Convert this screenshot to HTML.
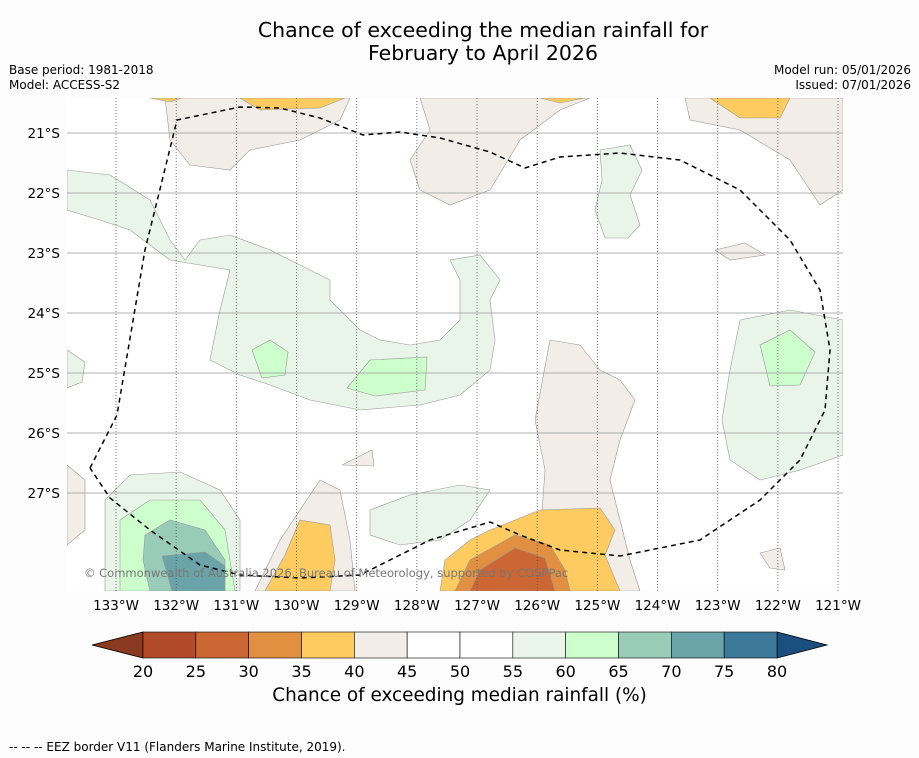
<!DOCTYPE html>
<html><head><meta charset="utf-8"><style>
body{margin:0;background:#fdfdfd;font-family:"DejaVu Sans","Liberation Sans",sans-serif;}
#wrap{position:relative;width:919px;height:758px;overflow:hidden;background:#fdfdfd}
.t{position:absolute;color:#000}
</style></head><body>
<div id="wrap">
<div class="t" style="left:0;width:966px;top:19px;text-align:center;font-size:20.5px;line-height:23px">Chance of exceeding the median rainfall for<br>February to April 2026</div>
<div class="t" style="left:9px;top:63px;font-size:12px;line-height:15px">Base period: 1981-2018<br>Model: ACCESS-S2</div>
<div class="t" style="right:8px;top:63px;font-size:12px;line-height:15px;text-align:right">Model run: 05/01/2026<br>Issued: 07/01/2026</div>
<div class="t" style="left:9px;top:740px;font-size:12px">--  --  -- EEZ border V11 (Flanders Marine Institute, 2019).</div>
<div class="t" style="left:0;width:919px;top:685px;text-align:center;font-size:18.4px">Chance of exceeding median rainfall (%)</div>
<svg id="svg" width="919" height="758" style="position:absolute;left:0;top:0">
<defs><clipPath id="mc"><rect x="67" y="98" width="776" height="493"/></clipPath></defs>
<g clip-path="url(#mc)" id="map">
<rect x="67" y="98" width="776" height="493" fill="#fff"/>
<g stroke="#999" stroke-width="0.6">
<path fill="#f2ede6" d="M165,98 L350,98 L340,120 L300,140 L250,150 L230,170 L190,165 L170,140 Z"/>
<path fill="#f2ede6" d="M420,98 L590,98 L560,110 L520,140 L490,190 L450,205 L420,190 L410,160 L430,130 Z"/>
<path fill="#f2ede6" d="M685,98 L843,98 L843,190 L820,205 L790,160 L740,130 L690,120 Z"/>
<path fill="#f2ede6" d="M550,340 L580,345 L600,370 L620,380 L635,400 L620,440 L610,480 L620,520 L630,560 L640,591 L540,591 L540,540 L545,470 L535,420 Z"/>
<path fill="#f2ede6" d="M280,540 L320,480 L340,490 L350,540 L355,591 L255,591 Z"/>
<path fill="#f2ede6" d="M67,465 L85,480 L85,530 L67,545 Z"/>
<path fill="#f2ede6" d="M715,250 L745,243 L765,255 L730,260 Z"/>
<path fill="#f2ede6" d="M342,465 L372,450 L374,466 Z"/>
<path fill="#f2ede6" d="M760,553 L780,548 L785,570 L770,568 Z"/>
<path fill="#fecb60" d="M240,98 L345,98 L320,108 L260,110 Z"/>
<path fill="#fecb60" d="M150,98 L182,98 L170,102 Z"/>
<path fill="#fecb60" d="M540,98 L585,98 L560,103 Z"/>
<path fill="#fecb60" d="M710,98 L790,98 L780,118 L740,118 Z"/>
<path fill="#fecb60" d="M300,520 L330,525 L335,560 L330,591 L265,591 L285,555 Z"/>
<path fill="#fecb60" d="M490,530 L540,510 L600,508 L615,530 L605,555 L620,591 L440,591 L445,560 L470,540 Z"/>
<path fill="#e09040" d="M470,560 L515,535 L550,545 L565,570 L570,591 L455,591 Z"/>
<path fill="#cc6633" d="M480,570 L515,548 L545,558 L555,591 L470,591 Z"/>
<path fill="#eaf5ea" d="M67,170 L110,175 L150,200 L170,240 L185,260 L200,240 L230,235 L270,250 L290,260 L330,280 L330,300 L360,330 L380,340 L410,345 L440,340 L460,320 L460,280 L450,260 L480,255 L500,280 L490,300 L495,340 L490,370 L460,395 L420,405 L360,410 L310,400 L270,385 L240,375 L210,360 L220,310 L230,270 L200,265 L170,260 L130,230 L100,220 L67,210 Z"/>
<path fill="#eaf5ea" d="M740,320 L790,310 L843,320 L843,455 L800,470 L760,480 L730,460 L722,420 L730,370 Z"/>
<path fill="#eaf5ea" d="M600,150 L630,145 L642,170 L630,195 L640,225 L628,238 L605,238 L595,210 L602,180 Z"/>
<path fill="#eaf5ea" d="M370,510 L410,495 L460,485 L490,490 L470,520 L440,540 L400,545 L370,535 Z"/>
<path fill="#eaf5ea" d="M67,350 L85,362 L82,382 L67,388 Z"/>
<path fill="#eaf5ea" d="M105,500 L130,475 L180,472 L220,490 L240,520 L240,591 L105,591 Z"/>
<path fill="#ccffcc" d="M120,520 L150,500 L200,500 L225,530 L235,591 L120,591 Z"/>
<path fill="#ccffcc" d="M252,350 L270,340 L288,352 L285,375 L262,378 Z"/>
<path fill="#ccffcc" d="M347,388 L370,360 L427,357 L425,390 L375,396 Z"/>
<path fill="#ccffcc" d="M760,345 L790,330 L815,352 L800,385 L770,386 Z"/>
<path fill="#99ccb8" d="M145,535 L170,520 L205,530 L225,560 L225,591 L150,591 L143,560 Z"/>
<path fill="#6aa3a8" d="M162,556 L205,552 L225,566 L225,591 L172,591 Z"/>
</g>
<g id="grid"></g>
<path fill="none" stroke="#000" stroke-width="1.5" stroke-dasharray="5,4" d="M90,468 L117,415 L145,250 L177,120 L240,107 L280,108 L320,118 L363,135 L400,132 L440,138 L490,152 L525,168 L560,157 L620,153 L680,160 L740,190 L790,240 L820,290 L830,350 L825,410 L800,460 L760,500 L700,540 L620,556 L560,550 L520,535 L490,522 L430,540 L390,560 L360,575 L300,578 L240,575 L200,565 L150,530 L110,498 L90,468"/>
<text x="84" y="577" font-size="11.5" fill="#777" font-family="DejaVu Sans">© Commonwealth of Australia 2026, Bureau of Meteorology, supported by COSPPac</text>
</g>
<g id="axes" font-family="DejaVu Sans" font-size="13.5"></g>
<g id="cbar"></g>
</svg>
</div>
<script>
const lonLabels=["133°W","132°W","131°W","130°W","129°W","128°W","127°W","126°W","125°W","124°W","123°W","122°W","121°W"];
const lonValues=[133,132,131,130,129,128,127,126,125,124,123,122,121];
const latLabels=["21°S","22°S","23°S","24°S","25°S","26°S","27°S"];
const latValues=[21,22,23,24,25,26,27];
const cbarLevels=[20,25,30,35,40,45,50,55,60,65,70,75,80];
const cbarColors=["#b04a28","#cc6633","#e09040","#fecb60","#f2ede6","#ffffff","#ffffff","#eaf5ea","#ccffcc","#99ccb8","#6aa3a8","#3d7a99"];
const NS="http://www.w3.org/2000/svg";
const xL=v=>116+(133-v)*60.17;
const yL=v=>133+(v-21)*60;
const xC=v=>143+(v-20)*(777-143)/60;
function mk(t,a,p){const e=document.createElementNS(NS,t);for(const k in a)e.setAttribute(k,a[k]);p.appendChild(e);return e;}
const grid=document.getElementById('grid'),axes=document.getElementById('axes'),cb=document.getElementById('cbar');
lonValues.forEach((v,i)=>{
 const l=mk('line',{x1:xL(v),x2:xL(v),y1:98,y2:591,stroke:'#555','stroke-width':0.8,'stroke-dasharray':'1,2'},grid);
 
 
 const t=mk('text',{x:xL(v),y:610,'text-anchor':'middle'},axes);t.textContent=lonLabels[i];
 
 
});
latValues.forEach((v,i)=>{
 const l=mk('line',{x1:67,x2:843,y1:yL(v),y2:yL(v),stroke:'#999','stroke-width':0.8},grid);
 
 
 const t=mk('text',{x:60,y:yL(v)+5,'text-anchor':'end'},axes);t.textContent=latLabels[i];
 
 
});
const y0=632,y1=658,ym=645;
const lo=mk('polygon',{points:`92,${ym} ${xC(20)},${y0} ${xC(20)},${y1}`,fill:'#8a3a20',stroke:'#000','stroke-width':0.8},cb);


const hi=mk('polygon',{points:`827,${ym} ${xC(80)},${y0} ${xC(80)},${y1}`,fill:'#1a4f80',stroke:'#000','stroke-width':0.8},cb);


cbarColors.forEach((c,i)=>{
 const r=mk('rect',{x:xC(cbarLevels[i]),y:y0,width:xC(cbarLevels[i+1])-xC(cbarLevels[i]),height:y1-y0,fill:c,stroke:'#000','stroke-width':0.6},cb);
 
 
});
cbarLevels.forEach(v=>{
 const t=mk('text',{x:xC(v),y:677,'text-anchor':'middle','font-size':16,'font-family':'DejaVu Sans'},cb);t.textContent=v;
 
 
});
</script>
</body></html>
